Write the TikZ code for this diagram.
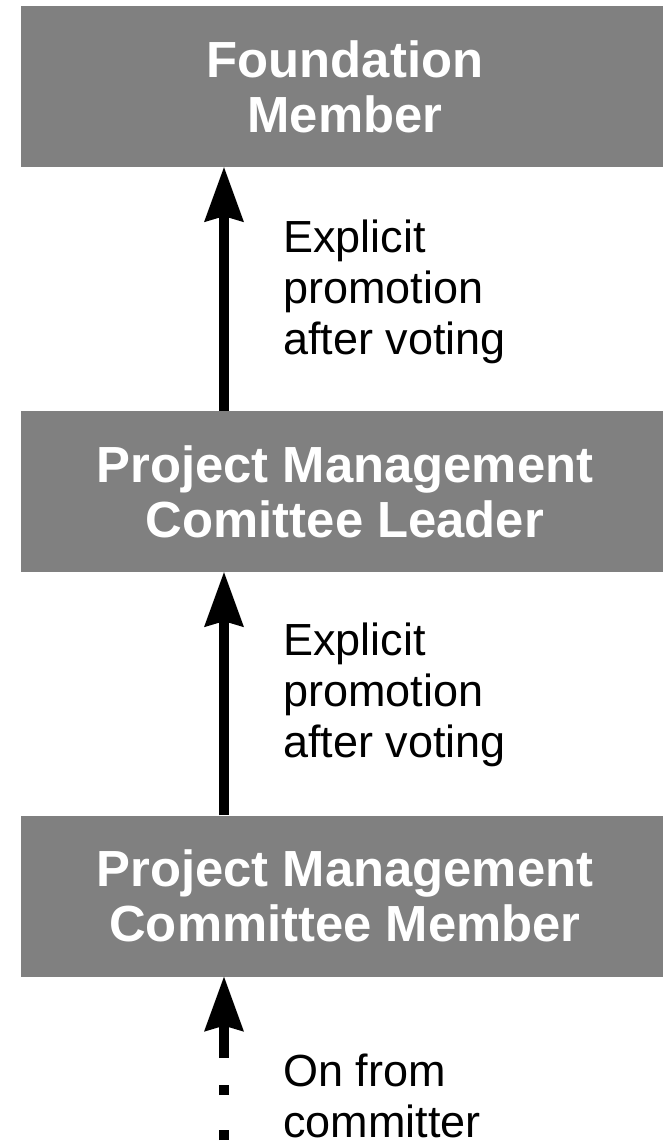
\documentclass[tikz,border=0pt]{standalone}
\usepackage{fontspec}
\setmainfont{Liberation Sans}
\usetikzlibrary{arrows.meta}
\definecolor{boxgray}{RGB}{128,128,128}
\begin{document}
\begin{tikzpicture}[x=1pt,y=-1pt,
  rolebox/.style={fill=boxgray, draw=none, minimum width=648pt, minimum height=161pt,
    inner sep=0pt, text=white, align=center, font=\bfseries\fontsize{50.8}{55}\selectfont},
  lbl/.style={anchor=north west, inner sep=0pt, align=left, font=\fontsize{45}{51}\selectfont},
  promo/.style={line width=10pt, -{Stealth[length=55pt,width=40pt,inset=6pt,line width=0pt]}},
  dotpromo/.style={promo, dash pattern=on 0pt off 10pt on 10pt off 35pt on 10pt off 27pt on 200pt}]
\useasboundingbox (0,0) rectangle (662,1144);
\node[rolebox] (fm) at (345,86.5) {Foundation\\Member};
\node[rolebox] (pmcl) at (345,491.5) {Project Management\\Comittee Leader};
\node[rolebox] (pmcm) at (345,896) {Project Management\\Committee Member};
\coordinate (ax) at (224,0);
\coordinate (start) at (224,1150);
\draw[promo] (pmcl.north -| ax) -- (fm.south -| ax);
\draw[promo] (pmcm.north -| ax) -- (pmcl.south -| ax);
\draw[dotpromo] (start) -- (pmcm.south -| ax);
\node[lbl] (l1) at (283,220) {Explicit\\promotion\\after voting};
\node[lbl] (l2) at (283,623) {Explicit\\promotion\\after voting};
\node[lbl] (l3) at (283,1054) {On from\\committer};
\end{tikzpicture}
\end{document}
